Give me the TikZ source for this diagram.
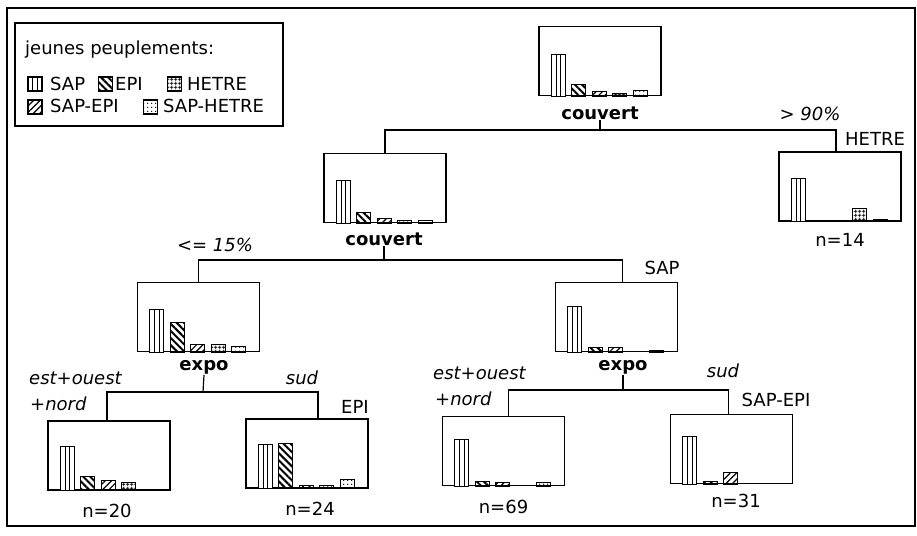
\documentclass[tikz,border=0pt]{standalone}
\usepackage{fontspec}
\setmainfont{DejaVu Sans}
\usetikzlibrary{calc,patterns.meta}
\newcommand{\trfont}{\fontsize{18pt}{21pt}\selectfont}
\tikzset{
  trframe/.style={draw, line width=2pt},
  trlegend/.style={draw, line width=1.3pt},
  trbox/.style={rectangle, draw, line width=1.2pt, minimum width=122pt,
                minimum height=69pt, inner sep=0pt},
  trbar/.style={draw, line width=1.1pt},
  trsap/.style={trbar, fill=white, path picture={
      \draw[line width=0.9pt]
        ($(path picture bounding box.south west)!0.333!(path picture bounding box.south east)$) --
        ($(path picture bounding box.north west)!0.333!(path picture bounding box.north east)$)
        ($(path picture bounding box.south west)!0.667!(path picture bounding box.south east)$) --
        ($(path picture bounding box.north west)!0.667!(path picture bounding box.north east)$);}},
  trepi/.style={trbar, pattern={Lines[angle=-45,distance=5pt,line width=2pt]}},
  trsapepi/.style={trbar, pattern={Lines[angle=45,distance=4.5pt,line width=1.2pt]}},
  trhetre/.style={trbar, pattern={Hatch[angle=0,distance=4pt,line width=1pt]}},
  trsaphetre/.style={trbar, pattern={Dots[distance=4pt,radius=0.8pt]}},
  trkey/.style={minimum size=14pt, inner sep=0pt},
  trtext/.style={font=\trfont, inner sep=1pt, anchor=base},
  trsplit/.style={trtext, font=\trfont\bfseries},
  trcond/.style={trtext, font=\trfont\itshape},
  trclass/.style={trtext},
  trcount/.style={trtext},
  trlink/.style={draw, line width=1.2pt}
}
% bars of one box: SAP, EPI, SAP-EPI, HETRE, SAP-HETRE
\newcommand{\trbars}[6]{%
  \foreach \h/\sty [count=\i from 0] in {#2/trsap,#3/trepi,#4/trsapepi,#5/trhetre,#6/trsaphetre} {
    \ifnum\h>0
      \draw[\sty] ($(#1.south west)+(13+20.5*\i,0)$) rectangle ++(14,-\h);
    \fi
  }}

\begin{document}
\begin{tikzpicture}[x=1pt, y=-1pt]
  \useasboundingbox (0,0) rectangle (917,535);
  \draw[trframe] (7,8) rectangle (915,526);

  % legend
  \draw[trlegend] (15,23) rectangle (283,126);
  \node[trtext, anchor=base west] (legtitle) at (24,55) {jeunes peuplements:};
  \node[trsap, trkey] (keysap) at (35,84) {};
  \node[trtext, anchor=base west] (txtsap) at (49,90) {SAP};
  \node[trepi, trkey] (keyepi) at (105.5,84) {};
  \node[trtext, anchor=base west] (txtepi) at (114,90) {EPI};
  \node[trhetre, trkey] (keyhetre) at (174.5,84) {};
  \node[trtext, anchor=base west] (txthetre) at (186,90) {HETRE};
  \node[trsapepi, trkey] (keysapepi) at (35,107) {};
  \node[trtext, anchor=base west] (txtsapepi) at (49,112) {SAP-EPI};
  \node[trsaphetre, trkey] (keysaphetre) at (150.5,107) {};
  \node[trtext, anchor=base west] (txtsaphetre) at (162,112) {SAP-HETRE};

  % boxes of the tree
  \node[trbox] (root) at (600,61) {};
  \node[trbox] (n2l) at (385,188) {};
  \node[trbox] (n2r) at (840,186.5) {};
  \node[trbox] (n3l) at (198.5,317) {};
  \node[trbox] (n3r) at (616.5,317) {};
  \node[trbox] (n4a) at (109,455.5) {};
  \node[trbox] (n4b) at (307,453.5) {};
  \node[trbox] (n4c) at (503.5,451) {};
  \node[trbox] (n4d) at (731.5,449) {};

  \trbars{root}{42}{12}{5}{3}{6}
  \trbars{n2l}{43}{11}{5}{3}{3}
  \trbars{n2r}{43}{0}{0}{13}{2}
  \trbars{n3l}{43}{30}{8}{8}{6}
  \trbars{n3r}{46}{5}{5}{0}{2}
  \trbars{n4a}{44}{14}{10}{8}{0}
  \trbars{n4b}{44}{45}{3}{3}{9}
  \trbars{n4c}{47}{5}{4}{0}{4}
  \trbars{n4d}{48}{3}{12}{0}{0}

  % splits
  \node[trsplit] (rootlbl) at (600,119) {couvert};
  \node[trsplit] (n2llbl) at (384,245) {couvert};
  \node[trsplit] (n3llbl) at (204,370) {expo};
  \node[trsplit] (n3rlbl) at (623,370) {expo};
  \coordinate (j1) at (600,130);
  \coordinate (j2) at (384,260);
  \coordinate (j3a) at (203,392);
  \coordinate (j3b) at (623,390);
  \draw[trlink] (rootlbl.south) -- (j1);
  \draw[trlink] (n2l.north) |- (j1) -| ([xshift=-4pt]n2r.north);
  \draw[trlink] (n2llbl.south) -- (j2);
  \draw[trlink] (n3l.north) |- (j2) -| ([xshift=6pt]n3r.north);
  \draw[trlink] (n3llbl.south) -- (j3a);
  \draw[trlink] ([xshift=-2pt]n4a.north) |- (j3a) -| ([xshift=11pt]n4b.north);
  \draw[trlink] (n3rlbl.south) -- (j3b);
  \draw[trlink] ([xshift=5pt]n4c.north) |- (j3b) -| ([xshift=-3pt]n4d.north);

  % conditions, classes and counts
  \node[trcond] (c1) at (810,120) {> 90\%};
  \node[trclass] (k1) at (875,145) {HETRE};
  \node[trcount] (m1) at (840,246) {n=14};
  \node[trcond] (c2) at (215,251) {<= 15\%};
  \node[trclass] (k2) at (662,274) {SAP};
  \node[trcond, anchor=base west] (c3) at (28,384) {est+ouest};
  \node[trcond, anchor=base west] (c4) at (29,410) {+nord};
  \node[trcond] (c5) at (302,384) {sud};
  \node[trclass] (k3) at (355,413) {EPI};
  \node[trcount] (m2) at (107,517) {n=20};
  \node[trcount] (m3) at (310,515) {n=24};
  \node[trcond, anchor=base west] (c6) at (432,379) {est+ouest};
  \node[trcond, anchor=base west] (c7) at (434,405) {+nord};
  \node[trcond] (c8) at (723,377) {sud};
  \node[trclass] (k4) at (776,406) {SAP-EPI};
  \node[trcount] (m4) at (503.5,513) {n=69};
  \node[trcount] (m5) at (736,507) {n=31};
\end{tikzpicture}
\end{document}
